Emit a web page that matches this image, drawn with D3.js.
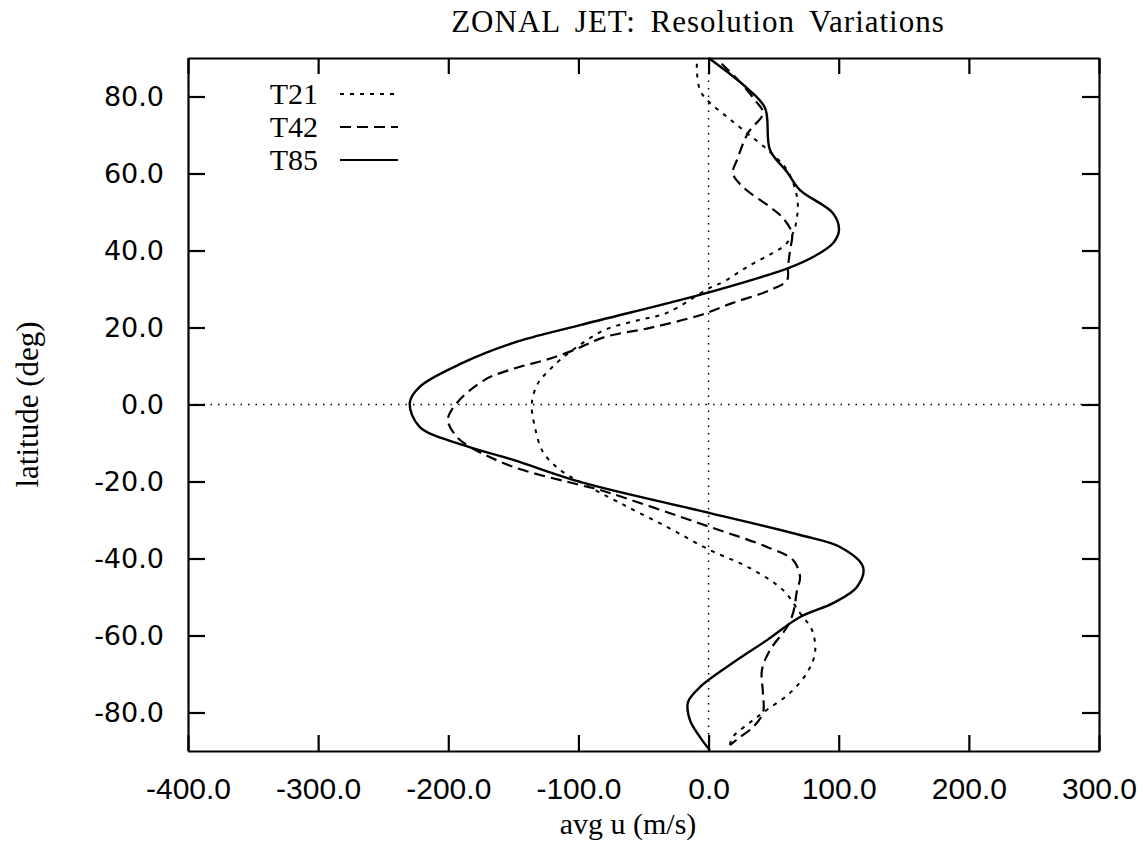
<!DOCTYPE html>
<meta charset="utf-8">
<script src="https://d3js.org/d3.v7.min.js"></script>
<style>
  body { margin: 0; background: #fff; }
</style>
<div id="my_dataviz"></div>
<script>

// data: [latitude, avg u]
var t21 = [[88.5,-9],[86.1,-8.9],[81.7,-6.6],[79.1,-1.2],[74.7,14.1],[70.5,29.5],[65.6,47.2],[60.9,60.3],
  [53.9,68],[48.7,68],[44.5,64.9],[41.4,58.7],[39.4,49.5],[35.7,29.5],[31.8,11],[30.3,1],[23.8,-32],
  [21.9,-54],[19.4,-79.6],[15.5,-98.8],[11.6,-114],[8.4,-124],[5.6,-131],[0.4,-135.8],[-5.8,-133.5],
  [-12.5,-127],[-17,-114],[-20.1,-98.8],[-25.6,-68],[-31.8,-32],[-37.8,1],[-42.5,31.8],[-48.2,57.2],
  [-54.2,70.3],[-58.6,79.5],[-64.5,81.8],[-69.7,75.6],[-74.9,62.6],[-79.3,44.9],[-82.6,31.8],
  [-86.3,18.7],[-88.4,16.4]];

var t42 = [[88.5,10],[83.8,24],[79.1,35.6],[75.7,41.8],[70.5,30.3],[63.5,21.8],[60.1,18.7],[56.5,26.4],
  [51.3,47.2],[48.7,56.4],[44.5,64.1],[40.1,62.6],[35.7,61],[32.3,60.3],[29.7,47.2],[26.4,18.7],
  [23.2,-6.6],[19.9,-45],[17.5,-80],[14.2,-103],[11.6,-125],[9.5,-148],[6.4,-172],[0.4,-193.4],
  [-4,-200.3],[-8.4,-193.4],[-11,-183.4],[-16.2,-150],[-20.9,-98.8],[-22.2,-83.5],[-31.8,1],
  [-37,44.9],[-40.4,64.9],[-44.8,70.3],[-48.2,68],[-54.2,64.9],[-57.8,60.3],[-63.8,47.2],[-69,41],
  [-75,41.8],[-80.1,41.8],[-83.8,34.1],[-86.4,24.1],[-88.5,16.4]];

var t85 = [[90,0],[82.2,29.5],[77,43.4],[66.1,47.2],[60.4,60.3],[55.7,70.3],[49.7,95.6],[45.3,100.2],
  [41.9,95.6],[38.3,80.2],[35.5,61.8],[29.2,1],[20.6,-98.8],[16,-150],[10.8,-189],
  [4.6,-222],[0.4,-229.6],[-5.8,-222],[-10.5,-189],[-14.4,-150],[-20.1,-98.8],
  [-28.2,1],[-33.9,70.3],[-37,101],[-42.2,118.7],[-47.4,114],[-51.6,95.6],[-55.2,70.3],[-61.2,44.9],
  [-67.1,18.7],[-73.4,-6.6],[-77.3,-15.8],[-82,-14.3],[-86.4,-6.6],[-89.8,1]];

var seriesNames = ["T21", "T42", "T85"];
var seriesData = [t21, t42, t85];
var xTicks = [-400, -300, -200, -100, 0, 100, 200, 300];
var yTicks = [-80, -60, -40, -20, 0, 20, 40, 60, 80];

var margin = {top: 58, right: 44, bottom: 91, left: 188},
    width = 1143 - margin.left - margin.right,
    height = 842 - margin.top - margin.bottom;

var svg = d3.select("#my_dataviz")
  .append("svg")
    .attr("width", 1143)
    .attr("height", 842)
  .append("g")
    .attr("transform", "translate(" + margin.left + "," + margin.top + ")");

var x = d3.scaleLinear().domain([-400, 300]).range([0, width]);
var y = d3.scaleLinear().domain([-90, 90]).range([height, 0]);

// zero lines
svg.append("line")
  .attr("x1", 0).attr("x2", width).attr("y1", y(0)).attr("y2", y(0))
  .attr("stroke", "#000").attr("stroke-width", 1.5).attr("stroke-dasharray", "1.5,6");
svg.append("line")
  .attr("x1", x(0)).attr("x2", x(0)).attr("y1", 0).attr("y2", height)
  .attr("stroke", "#000").attr("stroke-width", 1.5).attr("stroke-dasharray", "1.5,6");

// axes, ticks pointing inward on all four sides
var fmt = function(d) { return d.toFixed(1); };
var gx = svg.append("g").attr("transform", "translate(0," + height + ")")
  .call(d3.axisBottom(x).tickValues(xTicks).tickFormat(fmt).tickSize(-16).tickPadding(27).tickSizeOuter(0));
var gx2 = svg.append("g")
  .call(d3.axisTop(x).tickValues(xTicks).tickFormat("").tickSize(-16).tickSizeOuter(0));
var gy = svg.append("g")
  .call(d3.axisLeft(y).tickValues(yTicks).tickFormat(fmt).tickSize(-17).tickPadding(24).tickSizeOuter(0));
var gy2 = svg.append("g").attr("transform", "translate(" + width + ",0)")
  .call(d3.axisRight(y).tickValues(yTicks).tickFormat("").tickSize(-17).tickSizeOuter(0));

[gx, gx2, gy, gy2].forEach(function(g) {
  g.select(".domain").attr("stroke-width", 2.2);
  g.selectAll(".tick line").attr("stroke-width", 2.2);
});
gx.selectAll("text").style("font-family", "Liberation Sans Narrow, Liberation Sans, sans-serif")
  .style("font-size", "30px").attr("fill", "#000");
gy.selectAll("text").style("font-family", "DejaVu Sans, sans-serif")
  .style("font-size", "27px").attr("fill", "#000");

// curves
var styles = ["4,6", "11,6", null];
var widths = [2, 2.2, 2.4];
var line = d3.line()
  .x(function(d) { return x(d[1]); })
  .y(function(d) { return y(d[0]); })
  .curve(d3.curveCatmullRom);

seriesData.forEach(function(s, i) {
  svg.append("path")
    .datum(s)
    .attr("fill", "none")
    .attr("stroke", "#000")
    .attr("stroke-width", widths[i])
    .attr("stroke-dasharray", styles[i])
    .attr("d", line);
});

// legend
seriesNames.forEach(function(n, i) {
  var ly = 36 + i * 33;
  svg.append("text")
    .attr("x", 130).attr("y", ly + 10)
    .attr("text-anchor", "end")
    .style("font-family", "Liberation Serif, serif")
    .style("font-size", "30px")
    .text(n);
  svg.append("line")
    .attr("x1", 152).attr("x2", 210).attr("y1", ly).attr("y2", ly)
    .attr("stroke", "#000").attr("stroke-width", 2)
    .attr("stroke-dasharray", styles[i]);
});

// titles
svg.append("text")
  .attr("x", 510).attr("y", -26)
  .attr("text-anchor", "middle")
  .style("font-family", "Liberation Serif, serif")
  .style("font-size", "31px")
  .style("letter-spacing", "1px")
  .style("word-spacing", "6px")
  .text("ZONAL JET: Resolution Variations");

svg.append("text")
  .attr("x", 440).attr("y", height + 83)
  .attr("text-anchor", "middle")
  .style("font-family", "Liberation Serif, serif")
  .style("font-size", "30px")
  .text("avg u (m/s)");

svg.append("text")
  .attr("transform", "translate(-150," + (height / 2) + ") rotate(-90)")
  .attr("text-anchor", "middle")
  .style("font-family", "Liberation Serif, serif")
  .style("font-size", "31px")
  .text("latitude (deg)");

</script>
